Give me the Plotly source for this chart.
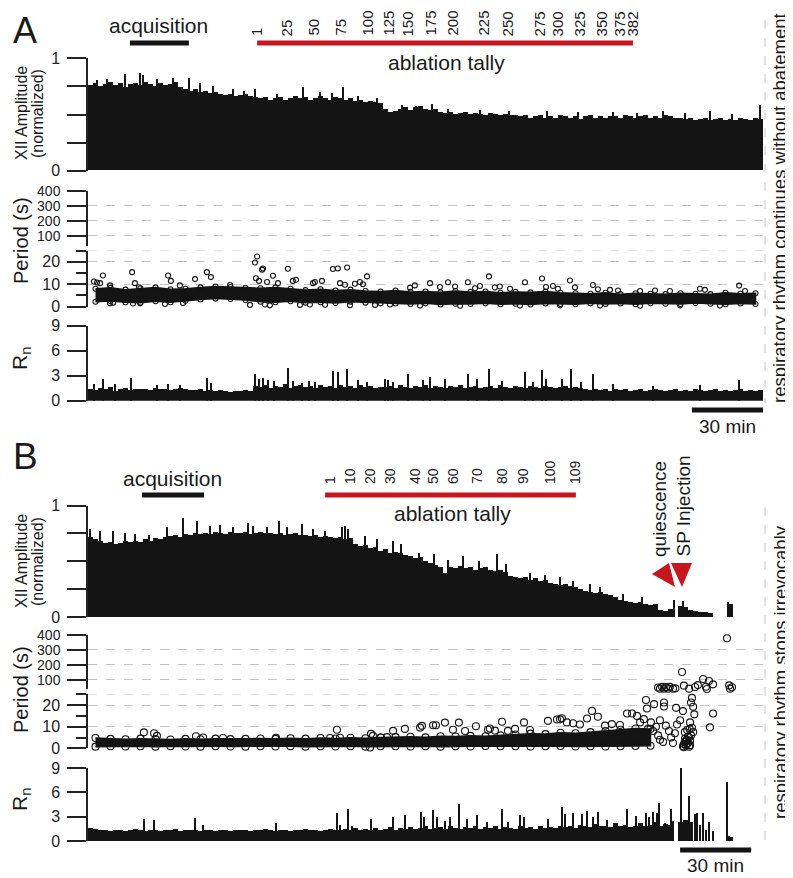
import plotly.graph_objects as go

W, H = 793, 878
T_MAX = 285.0          # minutes spanned by the plot width
N_BIN = 135            # amplitude / Rn bins
N_BAND = 45            # period band bins

# ---------------- Panel A data ----------------
ampA = [0.76,0.78,0.75,0.77,0.79,0.76,0.78,0.74,0.77,0.78,
        0.76,0.79,0.77,0.75,0.78,0.76,0.77,0.79,0.74,0.72,
        0.71,0.72,0.70,0.71,0.69,0.70,
        0.68,0.67,0.68,0.66,0.67,0.68,0.66,
        0.65,0.64,0.65,0.63,0.64,0.65,0.63,0.64,0.66,0.64,
        0.65,0.63,0.64,0.66,0.64,0.63,0.65,0.64,0.63,0.64,
        0.62,0.63,0.61,0.62,0.61,0.60,
        0.55,0.52,0.53,
        0.55,0.56,0.54,0.56,0.57,0.55,0.54,0.55,
        0.52,0.51,0.52,0.50,0.51,0.52,0.50,0.51,0.50,0.49,0.51,0.50,0.49,0.50,0.49,
        0.49,0.48,0.49,0.47,0.48,0.49,0.47,0.48,0.47,0.49,0.48,0.47,0.48,0.46,0.48,0.49,0.47,0.48,0.47,0.48,
        0.48,0.47,0.49,0.48,0.47,0.48,0.49,0.47,0.48,0.47,0.49,0.48,0.47,
        0.47,0.46,0.47,0.45,0.46,0.47,0.45,0.46,0.47,0.45,0.46,0.45,0.47,0.46,0.45,0.47,0.46]
ampA_spike_t = [3.8,8.0,15.6,22.0,23.2,29.0,35.9,42.6,47.5,52.8,61.2,66.0,70.5,80.0,90.8,98.0,
                103.0,107.7,114.0,122.0,132.6,138.5,145.2,152.0,165.5,178.0,193.8,207.0,
                221.7,232.0,242.8,252.0,262.6,272.0,283.7]
ampA_spike_v = [0.80,0.81,0.86,0.87,0.85,0.81,0.82,0.82,0.78,0.75,0.72,0.71,0.72,0.68,0.74,0.70,
                0.69,0.74,0.66,0.64,0.58,0.57,0.59,0.55,0.54,0.53,0.53,0.52,
                0.52,0.51,0.53,0.51,0.53,0.50,0.58]

perA_low = [2.2,2.5,2.0,1.8,2.4,2.0,2.6,3.2,3.6,3.4,3.0,2.2,2.0,2.4,1.8,2.0,1.6,2.2,1.8,1.5,1.4,
            1.2,1.5,1.0,1.3,1.2,1.5,1.1,1.3,1.0,1.4,1.2,1.1,
            1.5,1.2,1.4,1.1,1.5,1.3,1.2,1.6,1.3,1.1,1.4,1.2]
perA_high = [8.0,8.4,7.6,8.2,8.6,7.8,8.0,8.6,9.0,8.8,8.4,8.2,8.6,8.0,7.4,7.8,7.2,7.6,7.0,6.8,7.2,
             6.6,6.8,6.4,7.0,6.6,6.8,6.2,6.6,6.4,6.8,6.2,6.0,
             5.8,6.2,5.6,6.0,5.8,5.6,6.0,5.8,5.6,6.2,5.8,6.0]
perA_out_t = [2.5,3.8,5.1,6.3,9.3,18.6,19.8,21.5,32.5,33.8,35.0,38.8,45.2,50.2,51.9,60.0,
              70.5,71.4,70.9,72.2,73.5,73.9,75.6,78.1,80.2,84.4,86.5,87.8,95.0,95.8,98.8,
              103.4,105.5,106.4,108.5,109.4,112.7,114.8,117.8,116.1,
              9.3,10.6,19.0,22.0,40.1,68.4,74.7,76.8,89.5,93.7,100.1,110.6,121.2,127.5,
              136.0,138.0,144.4,148.6,152.0,155.0,160.4,163.4,165.5,169.3,171.8,173.9,178.2,
              184.5,191.7,193.4,196.3,198.4,203.5,205.6,213.2,215.3,220.4,223.8,233.1,239.4,
              245.7,258.4,260.5,274.9,277.4,
              140.2,157.1,182.4,199.3,216.2,233.1,250.0,266.8]
perA_out_v = [11.2,10.8,10.5,13.9,9.5,15.4,10.5,8.7,1.2,13.9,11.5,9.5,12.3,15.4,13.2,9.7,
              19.7,22.4,12.7,11.5,16.5,17.0,11.0,13.8,10.5,16.9,11.5,12.0,10.5,11.0,11.5,
              16.8,17.0,10.5,9.8,17.5,10.2,11.0,13.5,10.0,
              1.5,1.8,1.4,1.5,1.6,0.8,1.0,0.6,0.8,1.0,0.9,0.7,0.8,1.0,
              8.5,9.5,10.5,8.8,10.9,9.0,10.9,8.2,9.2,13.5,8.6,9.0,8.0,
              10.9,12.6,8.8,9.2,8.0,11.7,8.6,9.7,7.8,7.5,7.2,7.0,7.2,
              7.0,8.0,7.5,9.4,7.0,
              0.5,0.4,0.5,0.6,0.5,0.4,0.6,0.5]

rnA = [1.5,1.3,1.6,1.4,1.7,1.2,1.5,1.6,1.3,1.4,
       1.4,1.5,1.3,1.6,1.4,1.5,1.3,1.4,1.6,1.4,1.3,
       1.3,1.4,1.2,1.3,1.2,1.3,1.2,1.1,1.2,1.2,1.3,1.2,
       1.8,1.7,1.9,1.6,1.8,1.7,2.0,1.6,1.8,1.9,1.7,1.8,1.6,1.9,1.7,1.8,1.6,1.9,1.7,1.8,1.6,1.9,1.7,1.8,1.6,1.7,
       1.7,1.8,1.6,1.9,1.7,1.6,1.8,1.7,1.9,1.6,1.8,1.7,1.6,1.8,1.7,1.9,1.6,1.7,1.8,1.6,
       1.7,1.8,1.6,1.9,1.7,1.6,1.8,1.7,1.6,1.8,1.7,1.6,1.8,1.7,1.6,1.7,1.8,1.6,1.7,1.6,
       1.4,1.3,1.5,1.3,1.4,1.2,1.4,1.3,1.4,1.2,1.3,1.4,1.2,1.3,1.4,1.3,1.2,1.3,
       1.4,1.2,1.3,1.2,1.4,1.3,1.2,1.3,1.4,1.2,1.3,1.2,1.3,1.4,1.2,1.3,1.2,1.3]
rnA_spike_t = [2.5,6.3,11.4,18.2,29.1,33.8,38.8,50.2,51.9,70.5,72.2,73.9,76.0,78.5,84.4,86.5,
               90.4,93.3,95.8,103.4,105.5,109.4,114.0,117.8,125.4,126.7,128.8,135.1,141.4,
               144.4,150.7,160.4,164.2,169.3,174.8,184.5,187.9,191.7,193.4,200.1,203.9,208.0,
               213.2,221.7,238.6,258.4,274.9]
rnA_spike_v = [2.1,2.6,2.0,2.8,1.9,2.1,1.9,2.8,2.2,3.2,2.7,2.8,2.5,2.4,4.0,2.4,
               2.2,2.4,2.3,3.6,3.5,3.9,2.5,2.3,2.7,2.5,2.3,3.2,2.5,
               2.9,2.6,3.3,2.6,3.8,2.4,3.5,2.3,3.7,2.6,2.7,3.9,2.3,
               3.2,2.1,1.8,1.9,2.5]

# ---------------- Panel B data ----------------
ampB = [0.72,0.70,0.69,
        0.67,0.68,0.66,0.67,0.69,0.68,
        0.69,0.68,0.70,0.69,0.71,0.70,0.72,
        0.73,0.74,0.72,0.75,0.74,0.76,0.75,
        0.76,0.75,0.77,0.76,0.75,0.77,0.76,
        0.76,0.77,0.75,0.76,0.77,0.76,
        0.76,0.75,0.76,0.74,0.75,0.76,0.74,
        0.74,0.73,0.74,0.72,0.73,0.72,
        0.71,0.72,0.70,0.71,
        0.66,0.64,0.65,0.62,0.63,0.60,0.61,0.58,0.59,0.58,
        0.56,0.55,0.53,0.54,0.51,0.49,0.47,0.45,
        0.40,
        0.45,0.44,0.46,0.44,0.45,0.43,0.44,0.45,0.43,0.42,0.43,0.41,
        0.37,0.36,0.35,0.36,0.34,0.35,0.33,0.34,
        0.31,0.30,0.29,0.30,0.28,0.27,0.26,
        0.24,0.23,0.22,0.23,0.21,0.20,
        0.18,0.16,0.15,0.14,0.13,0.14,0.12,0.11,0.12,
        0.07,0.06,0.08,
        None,
        0.10,
        0.09,0.07,0.06,0.05,0.05,0.04,
        None,None,None,
        0.12,
        None,None,None,None,None,None]
ampB_spike_t = [0.8,5.1,10.6,15.6,19.8,26.0,33.4,40.1,46.0,51.5,55.7,61.2,67.6,69.7,75.6,80.6,84.0,
                90.4,95.0,100.0,107.2,108.5,109.8,117.0,122.0,128.8,132.1,140.0,146.1,152.0,158.3,
                165.0,172.7,176.5,186.6,193.0,199.3,205.0,211.9,216.2,225.9,234.0,247.4,251.2,270.2]
ampB_spike_v = [0.79,0.78,0.78,0.76,0.75,0.74,0.81,0.89,0.87,0.82,0.83,0.81,0.85,0.82,0.81,0.87,0.81,
                0.84,0.79,0.78,0.81,0.82,0.79,0.73,0.70,0.69,0.66,0.58,0.57,0.52,0.55,
                0.51,0.57,0.48,0.40,0.38,0.36,0.33,0.30,0.27,0.21,0.18,0.16,0.15,0.14]

perB_low = [0.8,1.0,0.9,1.0,0.8,1.0,0.9,0.8,1.0,0.9,0.8,
            1.0,0.9,1.0,0.8,1.0,0.9,1.0,0.8,1.0,
            1.0,0.9,1.0,0.8,1.0,0.9,1.1,1.0,
            1.0,0.9,1.0,1.1,0.9,1.0,
            0.9,1.0,1.1,1.2,
            None,None,None,None,None,None,None]
perB_high = [4.8,4.4,4.2,4.5,4.3,4.1,4.4,4.2,4.5,4.3,4.4,
             4.6,4.4,4.7,4.5,4.8,4.6,4.9,4.7,5.0,
             5.2,5.4,5.1,5.6,5.5,5.8,5.6,6.0,
             6.4,6.8,6.6,7.2,7.0,7.5,
             8.0,8.6,9.2,9.0,
             None,None,None,None,None,None,None]
perB_out_t = [23.6,27.9,29.1,45.6,48.6,57.0,79.4,102.2,105.1,106.4,119.5,120.3,119.1,123.7,126.2,128.8,
              133.8,140.2,141.0,145.7,146.9,150.7,154.1,156.6,159.2,163.8,168.9,169.7,171.8,174.8,
              177.3,180.3,184.1,186.6,194.2,198.0,200.1,202.2,204.8,207.7,210.7,212.8,215.3,218.3,
              221.2,227.6,229.7,231.8,224.6,233.1,234.7,235.6,236.0,237.7,239.0,239.8,241.5,243.2,
              243.2,244.0,245.3,246.2,247.0,248.3,248.7,247.8,250.0,251.2,254.6,255.0,255.5,256.0,
              254.2,255.0,255.5,263.9,262.6,236.4,238.6,240.7,241.5,242.8,199.3,
              251.2,251.6,252.1,252.5,252.9,253.3,253.8,254.2,254.6,251.6,252.5,253.3,254.2,
              253.8,252.1,252.9,252.0,253.0,254.0]
perB_out_v = [7.4,7.0,5.8,5.6,5.0,4.8,4.9,4.8,8.6,4.9,6.7,5.8,0.4,5.0,5.2,8.1,
              9.0,9.6,10.4,10.7,10.7,11.9,8.6,11.9,8.0,10.2,8.6,9.2,8.2,12.3,
              8.1,9.0,12.0,8.5,12.7,13.3,13.9,12.0,11.6,11.0,13.8,17.3,14.6,10.5,
              11.2,16.1,16.1,15.0,10.8,12.0,13.5,22.3,18.4,12.0,20.4,10.0,13.0,21.2,
              19.3,10.5,8.0,5.0,2.5,18.7,11.0,7.0,13.0,17.2,21.2,23.3,19.2,15.7,
              12.0,9.5,7.5,16.1,9.7,9.0,8.0,6.0,4.0,3.0,13.4,
              1.0,2.0,3.0,1.5,4.0,2.5,5.0,3.5,6.0,0.5,3.5,5.5,1.5,
              0.8,4.5,2.0,7.5,8.5,9.0]
perB_up_t = [240.7,242.4,244.0,245.7,247.0,241.5,243.2,244.9,248.0,250.8,251.6,253.8,256.3,
             257.5,259.7,260.9,262.2,263.9,261.3,269.8,270.7,271.9,271.1]
perB_up_v = [48,52,50,52,40,40,40,40,42,152,60,40,51,64,105,53,91,69,38,378,62,49,40]

rnB = [1.6,1.5,1.3,1.4,1.2,1.3,1.4,1.2,1.3,1.5,1.3,1.2,1.4,1.3,1.2,1.4,1.3,1.5,1.2,1.3,
       1.4,1.3,1.2,1.4,1.3,1.2,1.3,1.4,1.2,1.3,1.4,1.3,1.2,1.4,1.3,1.5,1.3,1.2,1.4,1.3,
       1.2,1.4,1.3,1.5,1.3,1.4,1.2,1.3,1.5,1.4,1.3,1.5,1.4,1.6,1.4,1.5,1.3,1.6,1.4,
       1.5,1.7,1.4,1.6,1.5,1.7,1.5,1.6,1.8,1.5,1.6,1.7,1.5,1.8,1.6,1.5,1.7,1.6,1.8,1.5,
       1.7,1.6,1.8,1.5,1.7,1.6,1.5,1.8,1.6,1.7,1.5,1.8,1.6,1.7,1.6,1.8,
       1.7,1.9,1.6,2.0,1.8,1.7,2.1,1.8,1.9,1.7,2.2,1.8,2.0,1.7,1.9,2.2,1.8,2.0,2.3,1.9,2.1,1.8,
       None,
       2.4,2.6,2.4,
       None,None,None,None,None,None,None,
       0.5,
       None,None,None,None,None,None]
rnB_spike_t = [23.6,27.9,45.2,48.6,79.4,105.1,106.4,109.8,111.5,119.5,128.8,
               133.8,140.6,141.8,145.7,147.4,150.7,152.8,156.6,160.0,164.2,168.5,174.8,177.3,
               182.4,184.1,194.2,200.1,201.4,204.8,208.6,210.7,213.2,215.3,219.1,227.6,231.4,
               235.6,236.9,238.6,240.2,241.1,243.6,245.3,246.1,246.9,
               250.4,253.8,256.3,257.1,258.4,259.7,260.9,262.2,263.9,269.8,270.7,271.9]
rnB_spike_v = [2.7,2.6,2.8,2.0,2.25,3.5,2.0,3.9,1.9,2.7,2.9,
               3.2,3.6,3.0,3.8,2.9,2.5,3.0,4.6,2.7,3.2,2.4,3.9,2.4,
               3.2,2.9,2.7,4.2,3.3,3.4,3.3,3.7,3.0,3.6,2.6,4.0,3.1,
               3.5,2.9,3.6,3.4,4.7,2.2,2.0,4.0,2.5,
               9.0,5.6,3.3,3.4,2.0,3.5,1.4,2.3,1.2,7.3,0.6,0.4]

# ---------------- annotations data ----------------
acqA = (17.7, 42.6)
ablA = (71.4, 230.1)
acqB = (22.8, 49.0)
ablB = (100.1, 206.0)
tallyA_labels = ["1","25","50","75","100","125","150","175","200","225","250","275",
                 "300","325","350","375","382"]
tallyA_t = [71.4,84.0,95.0,106.4,117.8,126.7,135.1,144.4,153.7,166.8,177.3,190.8,
            198.4,207.7,217.0,224.6,230.1]
tallyB_labels = ["1","10","20","30","40","50","60","70","80","90","100","109"]
tallyB_t = [102.2,110.6,119.1,127.5,138.1,145.7,154.1,164.2,174.8,183.7,195.1,205.6]
scaleA = (255.0, 285.0)
scaleB = (250.0, 280.0)

amp_ticks = [0, 1]
amp_minor = [0.25, 0.5, 0.75]
per_up_ticks = [100, 200, 300, 400]
per_low_ticks = [0, 10, 20]
per_low_minor = [5, 15, 25]
rn_ticks = [0, 3, 6, 9]

# ---------------- helpers ----------------
BIN = T_MAX / N_BIN
BBIN = T_MAX / N_BAND
t_bins = [(i + 0.5) * BIN for i in range(N_BIN)]
t_band = [(i + 0.5) * BBIN for i in range(N_BAND)]

OFF = 8  # page offset of the plot inside the browser window

def ypaper(p):
    return 1 - (p - OFF) / H

def xpaper(p):
    return (p - OFF) / W

FONT = "Liberation Sans, Arial, sans-serif"
INK = "#141414"
RED = "#c8161e"
GRID = "#c4c4c4"

fig = go.Figure()

def bars(vals, yax, width=None, t=None):
    fig.add_trace(go.Bar(x=t if t is not None else t_bins, y=vals, yaxis=yax, xaxis="x",
                         width=width if width else BIN * 1.06,
                         marker=dict(color=INK, line=dict(width=0)),
                         hoverinfo="skip"))

def circles(t, v, yax, msize):
    fig.add_trace(go.Scatter(x=t, y=v, yaxis=yax, xaxis="x", mode="markers",
                             cliponaxis=False,
                             marker=dict(symbol="circle-open", size=msize, color=INK,
                                         line=dict(width=1.1, color=INK)),
                             hoverinfo="skip"))

def band(low, high, yax, msize):
    segs, cur = [], []
    for i in range(len(low)):
        if low[i] is None:
            if cur:
                segs.append(cur)
                cur = []
        else:
            cur.append(i)
    if cur:
        segs.append(cur)
    for s in segs:
        xs = [t_band[i] for i in s] + [t_band[i] for i in reversed(s)]
        ys = [high[i] for i in s] + [low[i] for i in reversed(s)]
        fig.add_trace(go.Scatter(x=xs, y=ys, yaxis=yax, xaxis="x", mode="lines",
                                 fill="toself", fillcolor=INK,
                                 line=dict(color=INK, width=1.5), hoverinfo="skip"))
        ex = [t_band[i] for i in s] * 2
        ey = [high[i] for i in s] + [low[i] for i in s]
        circles(ex, ey, yax, msize)

# Panel A traces
bars(ampA_spike_v, "y", width=0.5, t=ampA_spike_t)
bars(ampA, "y")
fig.add_trace(go.Scatter(x=[None], y=[None], yaxis="y2", xaxis="x", mode="markers",
                         hoverinfo="skip"))
band(perA_low, perA_high, "y3", 5)
circles(perA_out_t, perA_out_v, "y3", 5)
bars(rnA_spike_v, "y4", width=0.5, t=rnA_spike_t)
bars(rnA, "y4")

# Panel B traces
bars(ampB_spike_v, "y5", width=0.5, t=ampB_spike_t)
bars(ampB, "y5")
circles(perB_up_t, perB_up_v, "y6", 7)
band(perB_low, perB_high, "y7", 7)
circles(perB_out_t, perB_out_v, "y7", 7)
bars(rnB_spike_v, "y8", width=0.5, t=rnB_spike_t)
bars(rnB, "y8")

# ---------------- axes ----------------
def yax(top, bottom, rng, ticks, grid=False, minor=None, minorlen=10, fsize=16):
    d = dict(domain=[ypaper(bottom), ypaper(top)], range=rng, anchor="x",
             showline=True, linecolor="#222", linewidth=1.5, automargin=False,
             ticks="outside", ticklen=19, tickwidth=1.5, tickcolor="#222",
             tickvals=ticks, ticktext=[str(v) for v in ticks],
             tickfont=dict(family=FONT, size=fsize, color="#222"),
             ticklabelstandoff=4,
             showgrid=grid, gridcolor=GRID, griddash="dash", gridwidth=1,
             zeroline=False, fixedrange=True)
    if minor:
        d["minor"] = dict(tickvals=minor, ticklen=minorlen, tickwidth=1.5, tickcolor="#222",
                          ticks="outside", showgrid=False)
    return d

layout_axes = dict(
    xaxis=dict(domain=[xpaper(88), xpaper(763)], range=[0, T_MAX], visible=False,
               anchor="y4", fixedrange=True, automargin=False),
    yaxis=yax(58.3, 170.7, [0, 1], amp_ticks, minor=amp_minor, minorlen=19),
    yaxis2=yax(190.7, 245.5, [35, 400], per_up_ticks, grid=True, fsize=14),
    yaxis3=yax(250.6, 306.7, [0, 25], per_low_ticks, grid=True, minor=per_low_minor),
    yaxis4=yax(325.7, 400.7, [0, 9], rn_ticks),
    yaxis5=yax(505.5, 617.0, [0, 1], amp_ticks, minor=amp_minor, minorlen=19),
    yaxis6=yax(635.0, 689.4, [35, 400], per_up_ticks, grid=True, fsize=14),
    yaxis7=yax(694.2, 748.4, [0, 25], per_low_ticks, grid=True, minor=per_low_minor),
    yaxis8=yax(768.0, 841.0, [0, 9], rn_ticks),
)

# ---------------- shapes ----------------
shapes = []
def hline_data(t0, t1, ypx, color, width):
    shapes.append(dict(type="line", xref="x", yref="paper", x0=t0, x1=t1,
                       y0=ypaper(ypx), y1=ypaper(ypx), line=dict(color=color, width=width)))

hline_data(acqA[0], acqA[1], 43, INK, 5)
hline_data(ablA[0], ablA[1], 43, RED, 5)
hline_data(acqB[0], acqB[1], 495, INK, 5)
hline_data(ablB[0], ablB[1], 495, RED, 5)
hline_data(scaleA[0], scaleA[1], 410, INK, 5)
hline_data(scaleB[0], scaleB[1], 850, INK, 5)

for yr in ("y3", "y7"):
    shapes.append(dict(type="line", xref="x", yref=yr, x0=0, x1=T_MAX, y0=25, y1=25,
                       line=dict(color=GRID, width=1, dash="dash"), layer="below"))

for (y0, y1) in ((20, 403), (507, 840)):
    shapes.append(dict(type="line", xref="paper", yref="paper", x0=xpaper(765), x1=xpaper(765),
                       y0=ypaper(y0), y1=ypaper(y1), line=dict(color="#c8c8c8", width=1, dash="dash")))

def tri(pts):
    path = "M " + " L ".join(f"{xpaper(a):.5f},{ypaper(b):.5f}" for a, b in pts) + " Z"
    shapes.append(dict(type="path", xref="paper", yref="paper", path=path,
                       fillcolor=RED, line=dict(width=0)))

tri([(652, 574), (669, 563), (675, 587)])
tri([(671, 563), (692, 563), (682, 587)])

# ---------------- annotations ----------------
ann = []
def text(s, xp, yp, size, angle=0, xanchor="center", yanchor="middle", xref="paper", xval=None):
    ann.append(dict(text=s, x=xval if xref == "x" else xpaper(xp), y=ypaper(yp),
                    xref=xref, yref="paper", showarrow=False, textangle=angle,
                    xanchor=xanchor, yanchor=yanchor,
                    font=dict(family=FONT, size=size, color="#1a1a1a")))

text("A", 11, 8.5, 36, xanchor="left", yanchor="top")
text("B", 11, 456, 37, xanchor="left")
text("acquisition", 158, 26, 21)
text("ablation tally", 446, 62, 21)
text("acquisition", 172, 479, 21)
text("ablation tally", 452, 513, 21)
for lab, t in zip(tallyA_labels, tallyA_t):
    text(lab, 0, 38, 15, angle=-90, yanchor="bottom", xref="x", xval=t)
for lab, t in zip(tallyB_labels, tallyB_t):
    text(lab, 0, 486, 14, angle=-90, yanchor="bottom", xref="x", xval=t)
text("quiescence", 659, 559, 19, angle=-90, yanchor="bottom")
text("SP Injection", 683, 559, 19, angle=-90, yanchor="bottom")
text("30 min", 0, 426, 19, xref="x", xval=(scaleA[0] + scaleA[1]) / 2)
text("30 min", 0, 865, 19, xref="x", xval=(scaleB[0] + scaleB[1]) / 2)
text("respiratory rhythm continues without abatement", 779, 208, 18.5, angle=-90)
text("respiratory rhythm stops irrevocably", 780, 672, 18.5, angle=-90)

# axis titles
text("XII Amplitude", 21, 113, 16, angle=-90)
text("(normalized)", 37, 113, 16, angle=-90)
text("Period (s)", 21, 241, 20, angle=-90)
text("R<sub>n</sub>", 21, 359, 21, angle=-90)
text("XII Amplitude", 21, 561, 16, angle=-90)
text("(normalized)", 37, 561, 16, angle=-90)
text("Period (s)", 21, 690, 20, angle=-90)
text("R<sub>n</sub>", 21, 800, 21, angle=-90)

fig.update_layout(
    width=W, height=H, margin=dict(l=0, r=0, t=0, b=0, pad=0, autoexpand=False),
    paper_bgcolor="white", plot_bgcolor="rgba(0,0,0,0)",
    showlegend=False, barmode="overlay", bargap=0,
    shapes=shapes, annotations=ann,
    font=dict(family=FONT, color="#1a1a1a"),
    **layout_axes,
)

fig.write_html("out.html")
